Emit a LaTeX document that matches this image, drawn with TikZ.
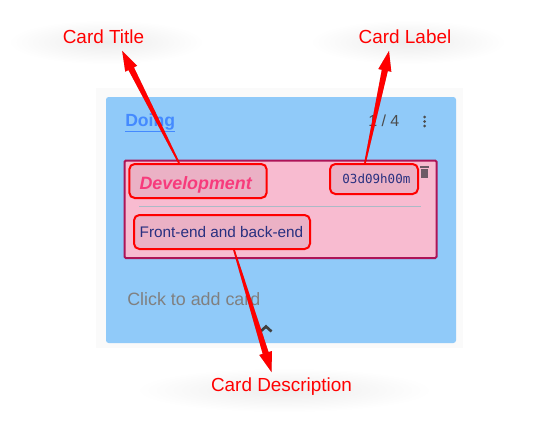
\documentclass[tikz,border=0pt]{standalone}
\usepackage{fontspec}
\setmainfont{Liberation Sans}
\setmonofont{DejaVu Sans Mono}
\usetikzlibrary{calc,fadings}

\definecolor{boardblue}{HTML}{90CAF9}
\definecolor{cardpink}{HTML}{F8BBD0}
\definecolor{cardedge}{HTML}{AD1457}
\definecolor{titlepink}{HTML}{F73B7C}
\definecolor{linkblue}{HTML}{448AFF}
\definecolor{cardnavy}{HTML}{283080}
\definecolor{trashgray}{HTML}{6D5A66}
\definecolor{rulegray}{HTML}{ABBAC6}

\tikzfading[name=softglow, inner color=transparent!93, outer color=transparent!100]

% tapered red pointer from a box to its caption
\newcommand{\pointer}[2]{
    \coordinate (p) at (#1);
    \coordinate (q) at (#2);
    \coordinate (n) at ($(q)!15pt!(p)$);
    \foreach \off/\op in {1.2/.10,2.4/.10,3.6/.07}{
        \fill[black, opacity=\op, xshift=\off pt, yshift=-\off pt]
            ($(p)!.6pt!90:(q)$) -- ($(n)!2.3pt!90:(q)$) -- ($(n)!5pt!90:(q)$) -- (q)
            -- ($(n)!5pt!-90:(q)$) -- ($(n)!2.3pt!-90:(q)$) -- ($(p)!.6pt!-90:(q)$) -- cycle;
    }
    \fill[red]
        ($(p)!.6pt!90:(q)$) -- ($(n)!2.3pt!90:(q)$) -- ($(n)!5pt!90:(q)$) -- (q)
        -- ($(n)!5pt!-90:(q)$) -- ($(n)!2.3pt!-90:(q)$) -- ($(p)!.6pt!-90:(q)$) -- cycle;
}

\begin{document}
\begin{tikzpicture}[
        x=0.75pt, y=-0.75pt,
        caption/.style={text=red, inner sep=0pt, font=\fontsize{14.2}{16}\selectfont},
        glow/.style={fill=black, path fading=softglow},
        callout/.style={rectangle, rounded corners=4pt, draw=red, line width=1.5pt, fill=black, fill opacity=.05, text opacity=1, draw opacity=1, inner sep=0pt, text=cardnavy},
        plain/.style={inner sep=0pt, anchor=base west},
    ]
    \useasboundingbox (0,0) rectangle (543,425);

    % Caption shadows
    \fill[glow] (8,20) rectangle (204,64);
    \fill[glow] (310,20) rectangle (506,64);
    \fill[glow] (136,368) rectangle (432,412);

    % Board and card
    \fill[black!2] (96,88) rectangle (463,348);
    \fill[boardblue, rounded corners=2pt] (106,97) rectangle (456,343);
    \fill[cardpink] (124,160) rectangle (437,258);
    \draw[cardedge, line width=1.5pt, rounded corners=1pt] (124.5,160.5) rectangle (436.5,258);
    \draw[rulegray, line width=.7pt] (139,206.5) -- (421,206.5);

    % Board header
    \node[plain, text=linkblue, font=\fontsize{13.2}{16}\bfseries\selectfont] (doing) at (125,126) {\underline{Doing}};
    \node[plain, text=black!70, font=\fontsize{12}{14}\selectfont] (count) at (368,126) {1 / 4};
    \foreach \y in {117,121.5,126}
        \fill[black!70] (424.5,\y) circle (1.5);

    % Highlighted card fields
    \node[callout, minimum width=103pt, minimum height=25.5pt] (titlebox) at (198,181)
        {\hspace*{-3.5pt}\raisebox{-1.2pt}[\height][0pt]{\textcolor{titlepink}{\fontsize{13.4}{16}\bfseries\itshape\selectfont Development}}};
    \node[callout, minimum width=66pt, minimum height=22.5pt] (labelbox) at (374,179)
        {\hspace*{3.6pt}\ttfamily\fontsize{9.4}{12}\selectfont 03d09h00m};
    \node[callout, minimum width=132pt, minimum height=25.5pt] (descbox) at (222,232)
        {\hspace*{-.8pt}\fontsize{11.5}{14}\selectfont Front-end and back-end};

    % Trash icon
    \fill[trashgray] (421,169) rectangle (428,177.5);
    \fill[trashgray] (420,166) rectangle (429,168);

    % Board footer
    \node[plain, text=black!50, font=\fontsize{13.4}{16}\selectfont] (addcard) at (127,305.5) {Click to add card};
    \draw[black!75, line width=2pt] (260.5,331.5) -- (266,326.5) -- (271.5,331.5);

    % Captions
    \node[caption] (cardtitle) at (103.5,37) {Card Title};
    \node[caption] (cardlabel) at (405,37) {Card Label};
    \node[caption] (carddesc) at (281.5,386.5) {Card Description};

    % Pointers
    \pointer{[xshift=-14.25pt]titlebox.north}{[xshift=14pt,yshift=-5pt]cardtitle.south}
    \pointer{[xshift=-6.75pt]labelbox.north}{[xshift=-12pt,yshift=-5pt]cardlabel.south}
    \pointer{[xshift=9pt]descbox.south}{[xshift=-7.5pt,yshift=4pt]carddesc.north}

\end{tikzpicture}
\end{document}
